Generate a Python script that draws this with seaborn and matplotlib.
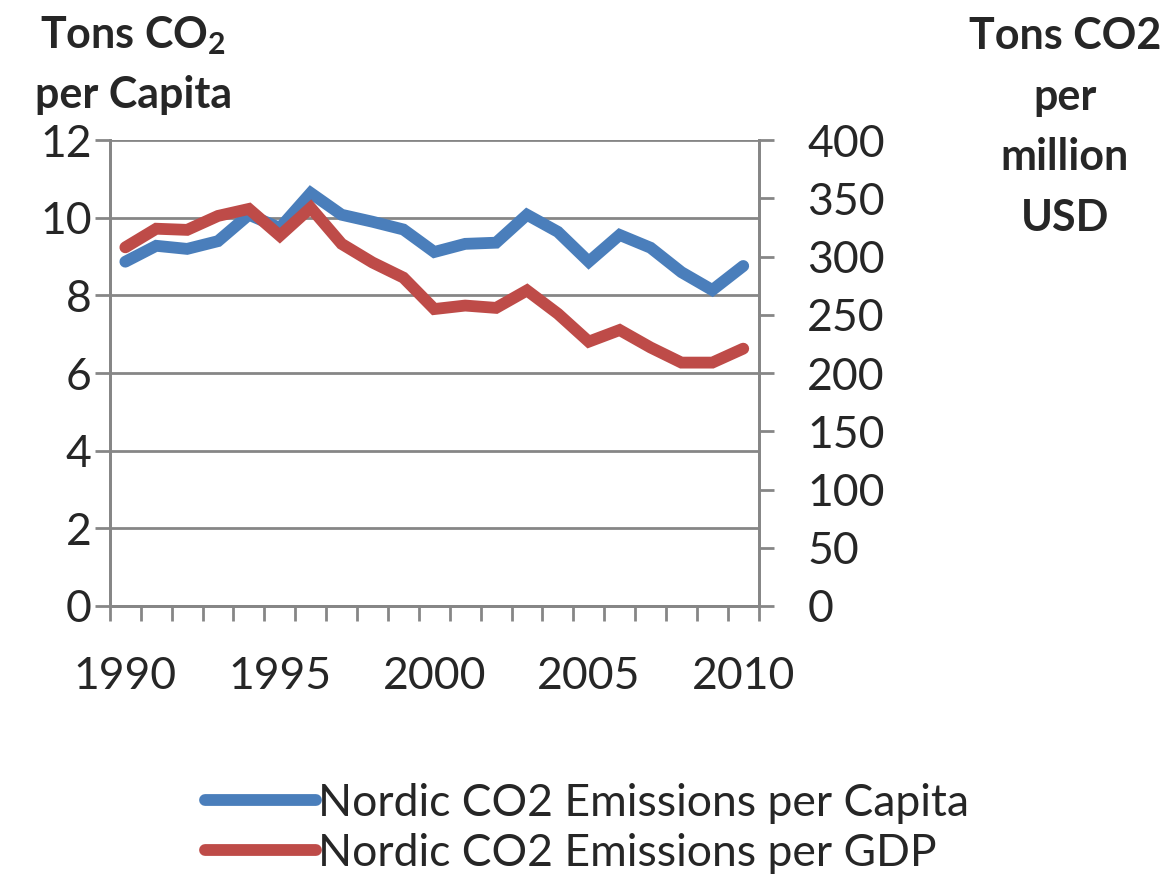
import matplotlib
matplotlib.use("Agg")
import matplotlib.pyplot as plt
import pandas as pd
import seaborn as sns

years = list(range(1990, 2011))
per_capita = [8.87, 9.28, 9.20, 9.40, 10.08, 9.74, 10.64, 10.08, 9.90, 9.70, 9.12,
              9.33, 9.36, 10.08, 9.64, 8.87, 9.56, 9.23, 8.60, 8.14, 8.76]
per_gdp = [308, 324, 323, 335, 341, 318, 342, 311, 295, 282, 255,
           258, 256, 271, 251, 227, 237, 222, 209, 209, 221]
label_years = [1990, 1995, 2000, 2005, 2010]

capita_name = "Nordic CO2 Emissions per Capita"
gdp_name = "Nordic CO2 Emissions per GDP"

df = pd.DataFrame({"year": years, "capita": per_capita, "gdp": per_gdp})

sns.set_style("white")
plt.rcParams["font.family"] = ["Lato", "DejaVu Sans"]
plt.rcParams["mathtext.fontset"] = "custom"
plt.rcParams["mathtext.rm"] = "Lato"
plt.rcParams["mathtext.bf"] = "Lato:bold"

grey = "#868686"
blue = "#4A7EBB"
red = "#BE4B48"

fig = plt.figure(figsize=(11.69, 8.82), dpi=100)
ax = fig.add_axes([0.094, 0.313, 0.555, 0.528])
ax2 = ax.twinx()

sns.lineplot(data=df, x="year", y="capita", ax=ax, color=blue, lw=8.5,
             solid_capstyle="round", solid_joinstyle="miter", label=capita_name, legend=False)
sns.lineplot(data=df, x="year", y="gdp", ax=ax2, color=red, lw=8.5,
             solid_capstyle="round", solid_joinstyle="miter", label=gdp_name, legend=False)

ax.set_xlim(years[0] - 0.5, years[-1] + 0.5)
ax.set_ylim(0, 12)
ax2.set_ylim(0, 400)
ax.set_yticks(range(0, 13, 2))
ax2.set_yticks(range(0, 401, 50))

# category boundaries get the tick marks, every fifth year gets a label
ax.set_xticks([y - 0.5 for y in years] + [years[-1] + 0.5])
ax.set_xticklabels([])
ax.set_xticks(label_years, minor=True)
ax.set_xticklabels([str(y) for y in label_years], minor=True)

ax.yaxis.grid(True, color=grey, lw=2)
ax.set_axisbelow(True)
for a in (ax, ax2):
    a.spines["top"].set_visible(False)
    for side in ("left", "right", "bottom"):
        a.spines[side].set_color(grey)
        a.spines[side].set_linewidth(2)
    a.set_xlabel("")
    a.set_ylabel("")

ax.tick_params(axis="y", which="major", direction="out", length=11, width=2, color=grey,
               labelsize=32, pad=2, left=True)
ax.tick_params(axis="x", which="major", direction="out", length=11, width=2, color=grey, bottom=True)
ax.tick_params(axis="x", which="minor", length=0, labelsize=32, pad=36)
ax2.tick_params(axis="y", direction="out", length=11, width=2, color=grey,
                labelsize=32, pad=24, right=True)

fig.text(0.114, 0.96, r"Tons CO$_{\mathbf{2}}$", fontsize=31, fontweight="bold", ha="center", va="center")
fig.text(0.114, 0.892, "per Capita", fontsize=31, fontweight="bold", ha="center", va="center")
fig.text(0.911, 0.856, "Tons CO2\nper\nmillion\nUSD", fontsize=31, fontweight="bold",
         ha="center", va="center", linespacing=1.62)

h1, l1 = ax.get_legend_handles_labels()
h2, l2 = ax2.get_legend_handles_labels()
fig.legend(h1 + h2, l1 + l2, loc="center left", bbox_to_anchor=(0.16, 0.061),
           frameon=False, fontsize=32, handlelength=2.5, handletextpad=0.05,
           labelspacing=0.2, borderaxespad=0)

fig.savefig("out.png", dpi=100)
